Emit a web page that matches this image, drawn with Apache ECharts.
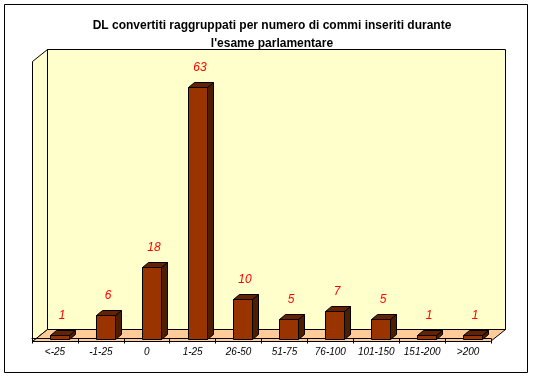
<!DOCTYPE html>
<html>
<head>
<meta charset="utf-8">
<script src="https://cdn.jsdelivr.net/npm/echarts@6/dist/echarts.min.js"></script>
<style>
  html, body { margin: 0; padding: 0; background: #fff; }
  #chart { width: 534px; height: 378px; }
</style>
</head>
<body>
<div id="chart"></div>
<script>
var titleText = 'DL convertiti raggruppati per numero di commi inseriti durante\nl\'esame parlamentare';
var categories = ['<-25', '-1-25', '0', '1-25', '26-50', '51-75', '76-100', '101-150', '151-200', '>200'];
var values = [1, 6, 18, 63, 10, 5, 7, 5, 1, 1];

var barWidth = 19;
var depthX = 6;
var depthY = 5;
var barShift = 4.4;

var myChart = echarts.init(document.getElementById('chart'), null, { renderer: 'canvas' });

function line(x1, y1, x2, y2) {
  return { type: 'line', silent: true, shape: { x1: x1, y1: y1, x2: x2, y2: y2 }, style: { stroke: '#000', lineWidth: 1 } };
}

function poly(points, fill) {
  return { type: 'polygon', silent: true, shape: { points: points }, style: { fill: fill, stroke: '#000', lineWidth: 1 } };
}

// one 3d bar: front, side, top and the value above it
function renderBar(params, api) {
  var top = api.coord([api.value(0), api.value(1)]);
  var base = api.coord([api.value(0), 0]);
  var x0 = Math.round(top[0] + barShift - barWidth / 2) + 0.5;
  var x1 = x0 + barWidth;
  var y0 = Math.round(top[1]) + 0.5;
  var y1 = Math.round(base[1]) + 0.5;
  return {
    type: 'group',
    children: [
      poly([[x1, y0], [x1 + depthX, y0 - depthY], [x1 + depthX, y1 - depthY], [x1, y1]], '#4d1f00'),
      poly([[x0, y0], [x0 + depthX, y0 - depthY], [x1 + depthX, y0 - depthY], [x1, y0]], '#662200'),
      { type: 'rect', silent: true, shape: { x: x0, y: y0, width: barWidth, height: y1 - y0 }, style: { fill: '#993300', stroke: '#000', lineWidth: 1 } },
      {
        type: 'text',
        silent: true,
        style: {
          x: x0 + barWidth / 2 + 2,
          y: y0 - 14,
          text: String(api.value(1)),
          fill: '#ff0000',
          font: 'italic 12px "Liberation Sans"',
          align: 'center',
          verticalAlign: 'bottom'
        }
      }
    ]
  };
}

var option = {
  animation: false,
  backgroundColor: '#fff',
  title: {
    text: titleText,
    left: 267,
    top: 12,
    textAlign: 'center',
    textStyle: { fontFamily: 'Liberation Sans', fontSize: 12, fontWeight: 'bold', color: '#000', lineHeight: 18 }
  },
  graphic: [
    { type: 'rect', silent: true, z: -10, shape: { x: 4.5, y: 4.5, width: 523, height: 368 }, style: { fill: '#fff', stroke: '#000', lineWidth: 1 } },
    // back wall, side wall, floor
    { type: 'polygon', silent: true, z: -9, shape: { points: [[47.5, 49.5], [505.5, 49.5], [505.5, 329.5], [47.5, 329.5]] }, style: { fill: '#ffffcc', stroke: '#000', lineWidth: 1 } },
    { type: 'polygon', silent: true, z: -9, shape: { points: [[32.5, 61.5], [47.5, 49.5], [47.5, 329.5], [32.5, 341.5]] }, style: { fill: '#ffffcc', stroke: '#000', lineWidth: 1 } },
    { type: 'polygon', silent: true, z: -9, shape: { points: [[32.5, 341.5], [47.5, 329.5], [505.5, 329.5], [490.5, 341.5]] }, style: { fill: '#ffcc99', stroke: '#000', lineWidth: 1 } }
  ],
  grid: { left: 32, right: 43, top: 61, bottom: 39.5 },
  xAxis: {
    type: 'category',
    data: categories,
    offset: 2.5,
    axisLine: { lineStyle: { color: '#000', width: 1 } },
    axisTick: { show: true, length: 5, alignWithLabel: false, lineStyle: { color: '#000' } },
    axisLabel: { interval: 0, margin: 6, fontFamily: 'Liberation Sans', fontStyle: 'italic', fontSize: 10, color: '#000' }
  },
  yAxis: {
    type: 'value',
    min: 0,
    max: 69.45,
    show: false
  },
  series: [{
    type: 'custom',
    renderItem: renderBar,
    data: categories.map(function (c, i) { return [i, values[i]]; }),
    encode: { x: 0, y: 1 },
    clip: false
  }]
};

myChart.setOption(option);
</script>
</body>
</html>
